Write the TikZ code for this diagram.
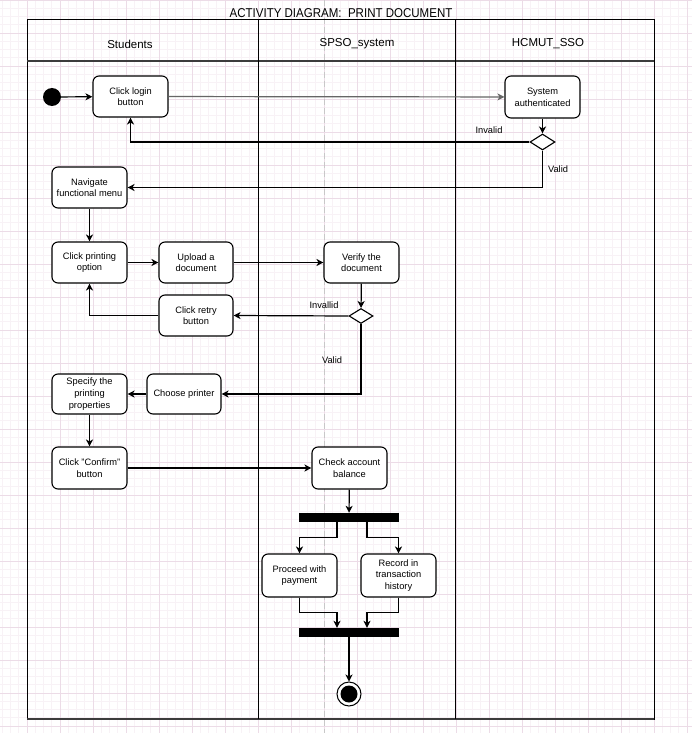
\documentclass[tikz,border=0pt]{standalone}
\usepackage{fontspec}
\setmainfont{Liberation Sans}
\newfontfamily\titlefont[FakeStretch=0.9]{Liberation Sans}
\usetikzlibrary{arrows.meta,calc,shapes.geometric}

\definecolor{gridminor}{RGB}{248,242,246}
\definecolor{gridmajor}{RGB}{236,220,231}
\definecolor{laneedge}{RGB}{60,60,60}
\definecolor{pagebreak}{RGB}{200,200,200}

\tikzset{
  box/.style={draw, line width=1.1pt, rounded corners=6pt, fill=white,
    minimum width=75pt, minimum height=41pt, inner sep=1pt, align=center,
    font=\fontsize{9.3}{11.6}\selectfont},
  dec/.style={draw, line width=1.1pt, shape=diamond, fill=white,
    minimum width=25pt, minimum height=16pt, inner sep=0pt},
  bar/.style={fill=black, minimum width=100pt, minimum height=9pt, inner sep=0pt},
  arr/.style={line width=1.2pt, -{Stealth[length=7pt,width=7pt,inset=2pt]}},
  lbl/.style={font=\fontsize{9.3}{11}\selectfont, inner sep=0pt},
  lanehead/.style={font=\fontsize{11.5}{13}\selectfont, inner sep=0pt},
}

\begin{document}
\begin{tikzpicture}[x=1pt, y=-1pt]
\useasboundingbox (0,0) rectangle (692,733);
\fill[white] (0,0) rectangle (692,733);

% background grid
\foreach \k in {0,...,85}{
  \pgfmathsetmacro\gx{-6+\k*8.25}
  \draw[gridminor, line width=0.8pt] (\gx,0) -- (\gx,733);
}
\foreach \k in {0,...,89}{
  \pgfmathsetmacro\gy{\k*8.25}
  \draw[gridminor, line width=0.8pt] (0,\gy) -- (692,\gy);
}
\foreach \k in {0,...,21}{
  \pgfmathsetmacro\gx{-6+\k*33}
  \draw[gridmajor, line width=0.9pt] (\gx,0) -- (\gx,733);
}
\foreach \k in {0,...,22}{
  \pgfmathsetmacro\gy{\k*33}
  \draw[gridmajor, line width=0.9pt] (0,\gy) -- (692,\gy);
}

% page break guide
\draw[pagebreak, line width=1pt, dash pattern=on 6pt off 3pt] (324,0) -- (324,733);

% title
\node[font=\titlefont\fontsize{12.8}{14}\selectfont, inner sep=0pt] (title) at (341,13.5)
  {ACTIVITY DIAGRAM:\ \ PRINT DOCUMENT};

% swimlanes
\draw[line width=1pt] (27,20) rectangle (654,719);
\draw[laneedge, line width=1.8pt] (27,61) -- (654,61);
\draw[laneedge, line width=1.8pt] (27,719) -- (654,719);
\draw[line width=1pt] (258,20) -- (258,719);
\draw[line width=1pt] (455,20) -- (455,719);
\node[lanehead] (hstud) at (130,44) {Students};
\node[lanehead] (hspso) at (357,44) {SPSO\_system};
\node[lanehead] (hsso) at (548,44) {HCMUT\_SSO};

% start and end
\node[circle, fill=black, minimum size=18pt, inner sep=0pt] (start) at (52,97) {};
\node[circle, draw, line width=1pt, fill=white, minimum size=24pt, inner sep=0pt] (finish) at (349,694) {};
\fill (finish.center) circle (8.5pt);

% actions
\node[box] (login) at (130.5,96.5) {Click login\\button};
\node[box, minimum height=42pt] (auth) at (542.5,97) {System\\authenticated};
\node[dec] (d1) at (542.5,142) {};
\node[box] (nav) at (89.5,187.5) {Navigate\\functional menu};
\node[box] (printopt) at (89.5,262.5) {Click printing\\option};
\node[box, minimum width=74pt] (upload) at (196,262.5) {Upload a\\document};
\node[box] (verify) at (361.5,262.5) {Verify the\\document};
\node[dec, minimum width=24pt, minimum height=15pt] (d2) at (361,316) {};
\node[box, minimum width=74pt] (retry) at (196,315.5) {Click retry\\button};
\node[box, minimum width=74pt, minimum height=40pt] (choose) at (184,394) {Choose printer};
\node[box, minimum height=40pt] (specify) at (89.5,394) {Specify the\\printing\\properties};
\node[box, minimum height=42pt] (confirm) at (89.5,468) {Click "Confirm"\\button};
\node[box, minimum height=42pt] (check) at (349.5,468) {Check account\\balance};
\node[bar] (fork) at (349,517.5) {};
\node[box, minimum height=43pt] (pay) at (299.5,575.5) {Proceed with\\payment};
\node[box, minimum height=43pt] (record) at (398.5,575.5) {Record in\\transaction\\history};
\node[bar] (join) at (349,632.5) {};

% flows
\draw[arr] (start) -- (login);
\draw[arr, draw=black!60] (login) -- (auth);
\draw[arr] (auth) -- (d1);
\draw[arr] (d1.west) -| (login.south);
\draw[arr] (d1.south) |- (nav.east);
\node[lbl] (linv1) at (489,130) {Invalid};
\node[lbl] (lval1) at (558,169) {Valid};

\draw[arr] (nav) -- (printopt);
\draw[arr] (printopt) -- (upload);
\draw[arr] (upload) -- (verify);
\draw[arr] (verify) -- (d2);
\draw[arr] (d2.west) -- (retry.east);
\draw[arr] (retry.west) -| (printopt.south);
\draw[arr] (d2.south) |- (choose.east);
\node[lbl] (linv2) at (324,305.5) {Invallid};
\node[lbl] (lval2) at (332,360) {Valid};

\draw[arr] (choose) -- (specify);
\draw[arr] (specify) -- (confirm);
\draw[arr] (confirm) -- (check);
\draw[arr] (check) -- (fork);

\draw[arr] ($(fork.south)+(-12,0)$) -- ++(0,15.5) -| (pay.north);
\draw[arr] ($(fork.south)+(18,0)$) -- ++(0,15.5) -| (record.north);
\draw[arr] (pay.south) -- ++(0,15) -| ($(join.north)+(-12,0)$);
\draw[arr] (record.south) -- ++(0,15) -| ($(join.north)+(18,0)$);
\draw[arr] (join) -- (finish);
\end{tikzpicture}
\end{document}
